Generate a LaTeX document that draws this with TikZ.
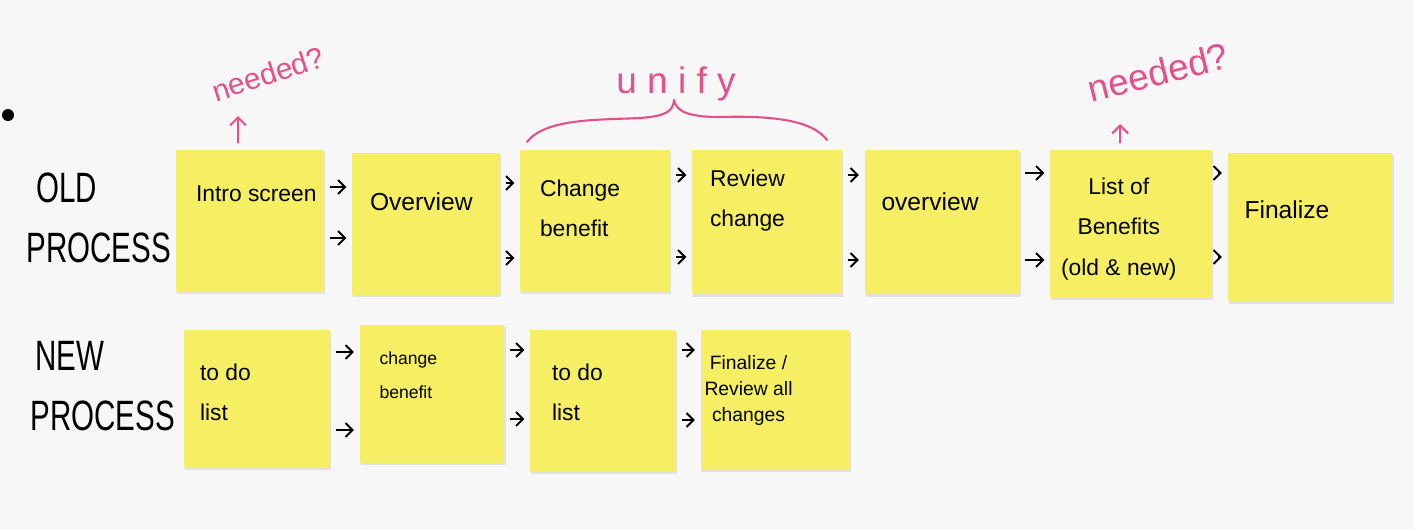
\documentclass[tikz,border=0pt]{standalone}
\usepackage{fontspec}
\setmainfont{Liberation Sans}
\usetikzlibrary{arrows.meta, positioning, shadows}
\definecolor{noteYellow}{HTML}{F7EF63}
\definecolor{markerPink}{HTML}{E6508A}
\definecolor{boardWhite}{HTML}{F7F7F7}
\newcommand{\tallword}[1]{\scalebox{0.8}[1.15]{#1}}

\begin{document}
\begin{tikzpicture}[
  x=0.02cm, y=-0.02cm,
  note/.style={fill=noteYellow, minimum width=2.96cm, minimum height=2.84cm, inner sep=0pt,
               drop shadow={opacity=0.18, shadow xshift=0.6pt, shadow yshift=-1.2pt}},
  memo/.style={font=\fontsize{13}{23}\selectfont, align=left, inner sep=0pt},
  big/.style={font=\fontsize{21}{34}\selectfont, align=left, inner sep=0pt},
  ink/.style={markerPink, line width=1.2pt, line cap=round},
  a/.style={-{Straight Barb[length=1.4mm]}, line width=1.1pt, shorten <=3pt, shorten >=3pt}
]
\path[use as bounding box, fill=boardWhite] (0,0) rectangle (1414,529);
\fill (8,115) circle (6);

% row labels
\node[big, anchor=west] (oldlbl) at (26,218) {\hspace{0.2cm}\tallword{OLD}\\\tallword{PROCESS}};
\node[big, anchor=west] (newlbl) at (30,386) {\hspace{0.1cm}\tallword{NEW}\\\tallword{PROCESS}};

% old process
\node[note] (o1) at (250,221) {};
\node[note] (o2) at (426,224) {};
\node[note, minimum width=3cm] (o3) at (595,221) {};
\node[note, minimum width=3cm, minimum height=2.9cm] (o4) at (767,222) {};
\node[note, minimum width=3.1cm, minimum height=2.9cm] (o5) at (942,222) {};
\node[note, minimum width=3.24cm, minimum height=2.96cm] (o6) at (1131,224) {};
\node[note, minimum width=3.3cm, minimum height=2.98cm] (o7) at (1310,227) {};

\node[memo, below right=0.72cm and 0.4cm of o1.north west] (o1t) {Intro screen};
\node[memo, font=\fontsize{14}{23}\selectfont, below right=0.8cm and 0.36cm of o2.north west] (o2t) {Overview};
\node[memo, below right=0.6cm and 0.4cm of o3.north west] (o3t) {Change\\benefit};
\node[memo, below right=0.4cm and 0.36cm of o4.north west] (o4t) {Review\\change};
\node[memo, font=\fontsize{14}{23}\selectfont, below right=0.86cm and 0.34cm of o5.north west] (o5t) {overview};
\node[memo, align=center, below right=0.56cm and 0.22cm of o6.north west] (o6t) {List of\\Benefits\\(old \& new)};
\node[memo, font=\fontsize{14}{23}\selectfont, below right=0.96cm and 0.34cm of o7.north west] (o7t) {Finalize};

% new process
\node[note, minimum width=2.92cm, minimum height=2.76cm] (n1) at (257,399) {};
\node[note, minimum width=2.9cm, minimum height=2.76cm] (n2) at (432,394) {};
\node[note, minimum width=2.92cm, minimum height=2.84cm] (n3) at (603,401) {};
\node[note, minimum width=2.98cm, minimum height=2.8cm] (n4) at (775,400) {};

\node[memo, below right=0.68cm and 0.32cm of n1.north west] (n1t) {to do\\list};
\node[memo, font=\fontsize{10}{19}\selectfont, below right=0.54cm and 0.4cm of n2.north west] (n2t) {change\\benefit};
\node[memo, below right=0.68cm and 0.44cm of n3.north west] (n3t) {to do\\list};
\node[memo, font=\fontsize{11}{15}\selectfont, align=center, below right=0.5cm and 0.08cm of n4.north west] (n4t) {Finalize /\\Review all\\changes};

% flow arrows
\foreach \s/\t/\ya/\yb in {o1/o2/187/238, o2/o3/183/258, o3/o4/175/257, o4/o5/175/260,
                           o5/o6/173/260, o6/o7/173/257, n1/n2/352/430, n2/n3/350/419, n3/n4/350/420}
{
  \draw[a] (\s.east |- 0,\ya) -- (\t.west |- 0,\ya);
  \draw[a] (\s.east |- 0,\yb) -- (\t.west |- 0,\yb);
}

% annotations
\node[markerPink, font=\fontsize{17}{17}\selectfont, rotate=18, inner sep=1pt] (need1) at (268,74) {needed?};
\node[markerPink, font=\fontsize{21}{21}\selectfont, rotate=14, inner sep=1pt] (need2) at (1158,72) {needed?};
\coordinate (up1) at (238,116);
\coordinate (up2) at (1120,124);
\draw[ink, -{Straight Barb[length=1.6mm]}, shorten <=4pt] (o1.north -| up1) -- (up1);
\draw[ink, -{Straight Barb[length=1.6mm]}, shorten <=4pt] (o6.north -| up2) -- (up2);

\node[markerPink, font=\fontsize{21}{21}\selectfont\addfontfeatures{LetterSpace=28}] (unify) at (676,84) {unify};
\draw[ink] (527,142) .. controls (545,118) and (600,120) .. (640,118)
           .. controls (665,116) and (673,112) .. (674,100);
\draw[ink] (674,100) .. controls (676,112) and (690,117) .. (720,117)
           .. controls (790,115) and (815,125) .. (827,140);
\end{tikzpicture}
\end{document}
